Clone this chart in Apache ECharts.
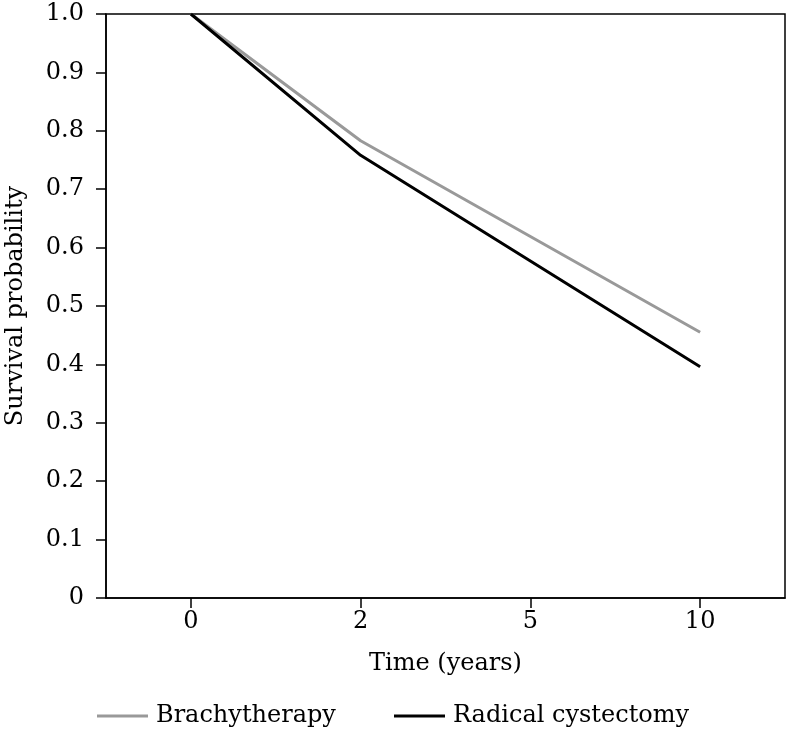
<!DOCTYPE html>
<html>
<head>
<meta charset="utf-8">
<script src="https://cdn.jsdelivr.net/npm/echarts@6/dist/echarts.min.js"></script>
<style>
  html, body { margin: 0; padding: 0; background: #fff; }
  #chart { width: 786px; height: 731px; }
</style>
</head>
<body>
<div id="chart"></div>
<script>
// 数据
const timeLabels = ['0', '2', '5', '10']
const brachyValues = [1.0, 0.783, 0.619, 0.455]
const cystectomyValues = [1.0, 0.758, 0.577, 0.396]
const yTicks = [0, 0.1, 0.2, 0.3, 0.4, 0.5, 0.6, 0.7, 0.8, 0.9, 1.0]

const FONT = 'DejaVu Serif'
const FS = 24

const chart = echarts.init(document.getElementById('chart'))

const legendBase = {
  top: 704,
  icon: 'rect',
  itemWidth: 51,
  itemHeight: 3,
  itemGap: 0,
  padding: 0,
  textStyle: { fontFamily: FONT, fontSize: FS, color: '#000', padding: [0, 0, 0, 3] }
}

const option = {
  animation: false,
  backgroundColor: '#fff',
  textStyle: { fontFamily: FONT, color: '#000' },
  grid: {
    left: 106,
    right: 1,
    top: 14,
    bottom: 133,
    outerBoundsMode: 'none',
    containLabel: false,
    show: true,
    borderColor: '#000',
    borderWidth: 1.5
  },
  legend: [
    Object.assign({}, legendBase, { data: ['Brachytherapy'], left: 97 }),
    Object.assign({}, legendBase, { data: ['Radical cystectomy'], left: 394 })
  ],
  xAxis: {
    type: 'category',
    data: timeLabels,
    name: 'Time (years)',
    nameLocation: 'middle',
    nameGap: 54,
    nameTextStyle: { fontFamily: FONT, fontSize: FS, color: '#000' },
    axisLine: { show: true, lineStyle: { color: '#000', width: 1.5 } },
    axisTick: { show: true, alignWithLabel: true, length: 10, lineStyle: { color: '#000', width: 1.5 } },
    axisLabel: { fontFamily: FONT, fontSize: FS, color: '#000', margin: 12 },
    splitLine: { show: false }
  },
  yAxis: {
    type: 'value',
    min: 0,
    max: 1,
    interval: 0.1,
    name: 'Survival probability',
    nameLocation: 'middle',
    nameGap: 78,
    nameTextStyle: { fontFamily: FONT, fontSize: FS, color: '#000' },
    axisLine: { show: true, lineStyle: { color: '#000', width: 1.5 } },
    axisTick: { show: true, length: 10, lineStyle: { color: '#000', width: 1.5 } },
    axisLabel: {
      fontFamily: FONT,
      fontSize: FS,
      color: '#000',
      margin: 22,
      formatter: (v) => {
        const t = yTicks.find((x) => Math.abs(x - v) < 1e-6)
        if (t === 0) return '0'
        return t.toFixed(1)
      }
    },
    splitLine: { show: false }
  },
  series: [
    {
      name: 'Brachytherapy',
      type: 'line',
      data: brachyValues,
      symbol: 'none',
      lineStyle: { color: '#999999', width: 3 },
      itemStyle: { color: '#999999' }
    },
    {
      name: 'Radical cystectomy',
      type: 'line',
      data: cystectomyValues,
      symbol: 'none',
      lineStyle: { color: '#000000', width: 3 },
      itemStyle: { color: '#000000' }
    }
  ]
}

chart.setOption(option)
</script>
</body>
</html>
